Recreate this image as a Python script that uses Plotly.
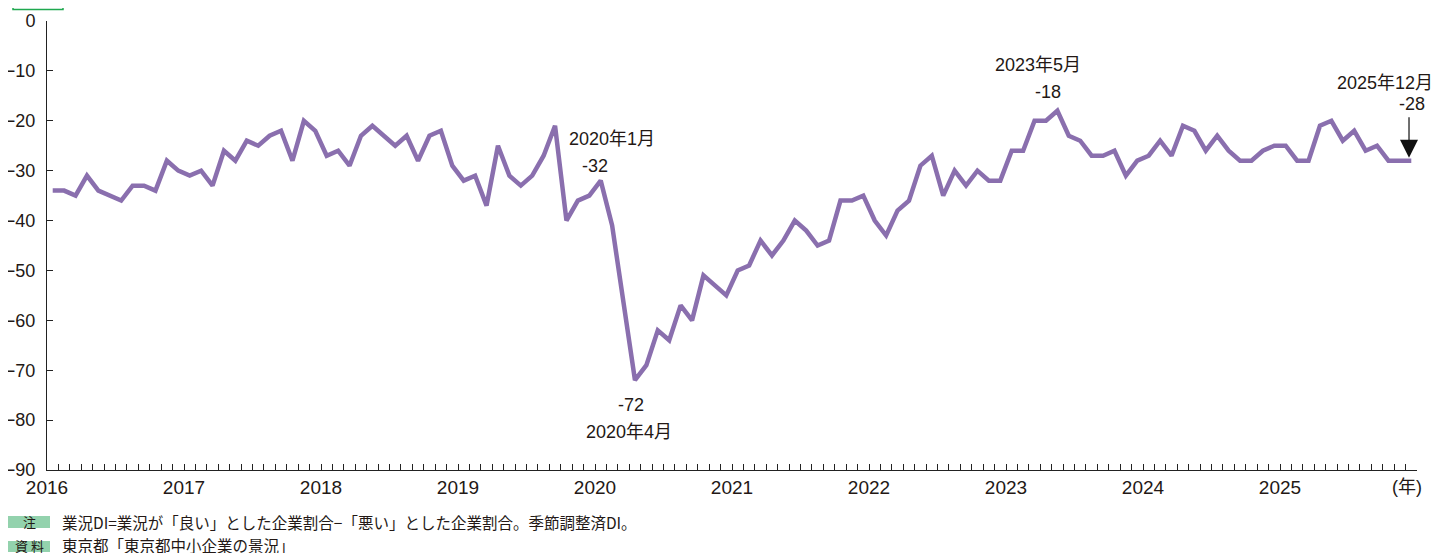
import plotly.graph_objects as go

# Monthly 業況DI, Jan 2016 .. Dec 2025
years = [2016, 2017, 2018, 2019, 2020, 2021, 2022, 2023, 2024, 2025]
year_labels = [str(y) for y in years]
di_2016 = [-34, -34, -35, -31, -34, -35, -36, -33, -33, -34, -28, -30]
di_2017 = [-31, -30, -33, -26, -28, -24, -25, -23, -22, -28, -20, -22]
di_2018 = [-27, -26, -29, -23, -21, -23, -25, -23, -28, -23, -22, -29]
di_2019 = [-32, -31, -37, -25, -31, -33, -31, -27, -21, -40, -36, -35]
di_2020 = [-32, -41, -57, -72, -69, -62, -64, -57, -60, -51, -53, -55]
di_2021 = [-50, -49, -44, -47, -44, -40, -42, -45, -44, -36, -36, -35]
di_2022 = [-40, -43, -38, -36, -29, -27, -35, -30, -33, -30, -32, -32]
di_2023 = [-26, -26, -20, -20, -18, -23, -24, -27, -27, -26, -31, -28]
di_2024 = [-27, -24, -27, -21, -22, -26, -23, -26, -28, -28, -26, -25]
di_2025 = [-25, -28, -28, -21, -20, -24, -22, -26, -25, -28, -28, -28]

values = (di_2016 + di_2017 + di_2018 + di_2019 + di_2020 +
          di_2021 + di_2022 + di_2023 + di_2024 + di_2025)
x_pos = [i + 0.5 for i in range(len(values))]   # month centres
year_ticks = [12 * k for k in range(len(years))]

NUM = "Liberation Sans, Arial, Noto Sans CJK JP, sans-serif"
JFONT = "Noto Sans CJK JP, sans-serif"
TXT = "#231815"
LINE = "#8a6fae"

OFF = 8                       # browser body margin
W, H = 1450 - OFF, 553 - OFF
L, R, T, B = 47 - OFF, 33, 21 - OFF, 83

def px(xp, yp):
    fx, fy = xp - OFF, yp - OFF
    return (fx - L) / (W - L - R), (H - B - fy) / (H - T - B)

fig = go.Figure()
fig.add_trace(go.Scatter(x=x_pos, y=values, mode="lines",
                         line=dict(color=LINE, width=4.5),
                         hoverinfo="skip", showlegend=False))

def label(idx, text, xs=0, ys=0, size=18):
    fig.add_annotation(x=x_pos[idx], y=values[idx], text=text, showarrow=False,
                       xanchor="center", yanchor="middle",
                       xshift=xs, yshift=ys,
                       font=dict(family=NUM, size=size, color=TXT))

i_jan20 = 48
i_apr20 = 51
i_may23 = 88
i_dec25 = len(values) - 1

label(i_jan20, "2020年1月", xs=11, ys=42)
label(i_jan20, str(values[i_jan20]), xs=-6, ys=15)
label(i_apr20, str(values[i_apr20]), xs=-4, ys=-25)
label(i_apr20, "2020年4月", xs=-6, ys=-52)
label(i_may23, "2023年5月", xs=-19, ys=46)
label(i_may23, str(values[i_may23]), xs=-9, ys=19)
label(i_dec25, "2025年12月", xs=-26, ys=78)
label(i_dec25, str(values[i_dec25]), xs=1, ys=57)
fig.add_annotation(x=x_pos[i_dec25] - 0.2, y=values[i_dec25] + 0.6,
                   ax=x_pos[i_dec25] - 0.2, ay=values[i_dec25] + 9,
                   axref="x", ayref="y", text="", showarrow=True,
                   arrowhead=2, arrowsize=3, arrowwidth=1.2, arrowcolor="#111")

# (年) unit label
xa, ya = px(1407, 487)
fig.add_annotation(xref="paper", yref="paper", x=xa, y=ya, text="(年)", showarrow=False,
                   xanchor="center", yanchor="middle",
                   font=dict(family=NUM, size=18, color=TXT))

# footnotes
shapes = []
for (y0, y1, ty_c, tag, text) in [(516, 528, 521.5, "注", "業況DI=業況が「良い」とした企業割合−「悪い」とした企業割合。季節調整済DI。"),
                                  (541, 552, 545.0, "資 料", "東京都「東京都中小企業の景況」")]:
    x0p, y0p = px(8, y1)
    x1p, y1p = px(50, y0)
    shapes.append(dict(type="rect", xref="paper", yref="paper", x0=x0p, x1=x1p, y0=y0p, y1=y1p,
                       fillcolor="#93d2ad", line=dict(width=0), layer="below"))
    cx, cy = px(29, ty_c)
    fig.add_annotation(xref="paper", yref="paper", x=cx, y=cy, text=tag, showarrow=False,
                       xanchor="center", yanchor="middle",
                       font=dict(family=JFONT, size=13, color=TXT))
    tx, ty = px(60, ty_c)
    fig.add_annotation(xref="paper", yref="paper", x=tx, y=ty, text=text, showarrow=False,
                       xanchor="left", yanchor="middle",
                       font=dict(family=JFONT, size=15.5, color=TXT))

# green box edge at top-left (cropped in the reference)
gx0, gy0 = px(13, OFF + 1.5)
gx1, gy1 = px(63, OFF - 10)
shapes.append(dict(type="rect", xref="paper", yref="paper", x0=gx0, x1=gx1, y0=gy0, y1=gy1,
                   fillcolor="white", line=dict(color="#1fa84f", width=1.5)))

fig.update_layout(
    width=W, height=H, margin=dict(l=L, r=R, t=T, b=B, autoexpand=False),
    paper_bgcolor="white", plot_bgcolor="white",
    shapes=shapes,
    xaxis=dict(range=[0, 120], tickvals=year_ticks, ticktext=year_labels, automargin=False,
               showgrid=False, zeroline=False, showline=True, linecolor="#222", linewidth=1,
               ticks="inside", ticklen=6, tickcolor="#222", tickwidth=1,
               minor=dict(dtick=1, tick0=0, ticks="inside", ticklen=6, tickcolor="#222", tickwidth=1),
               tickfont=dict(family=NUM, size=19, color=TXT),
               ticklabelstandoff=0),
    yaxis=dict(range=[-90, 0], tickvals=list(range(-90, 1, 10)), automargin=False,
               showgrid=False, zeroline=False, showline=True, linecolor="#222", linewidth=1,
               ticks="inside", ticklen=6, tickcolor="#222", tickwidth=1,
               tickfont=dict(family=NUM, size=18, color=TXT), ticklabelstandoff=7),
)

fig.write_html("out.html")
